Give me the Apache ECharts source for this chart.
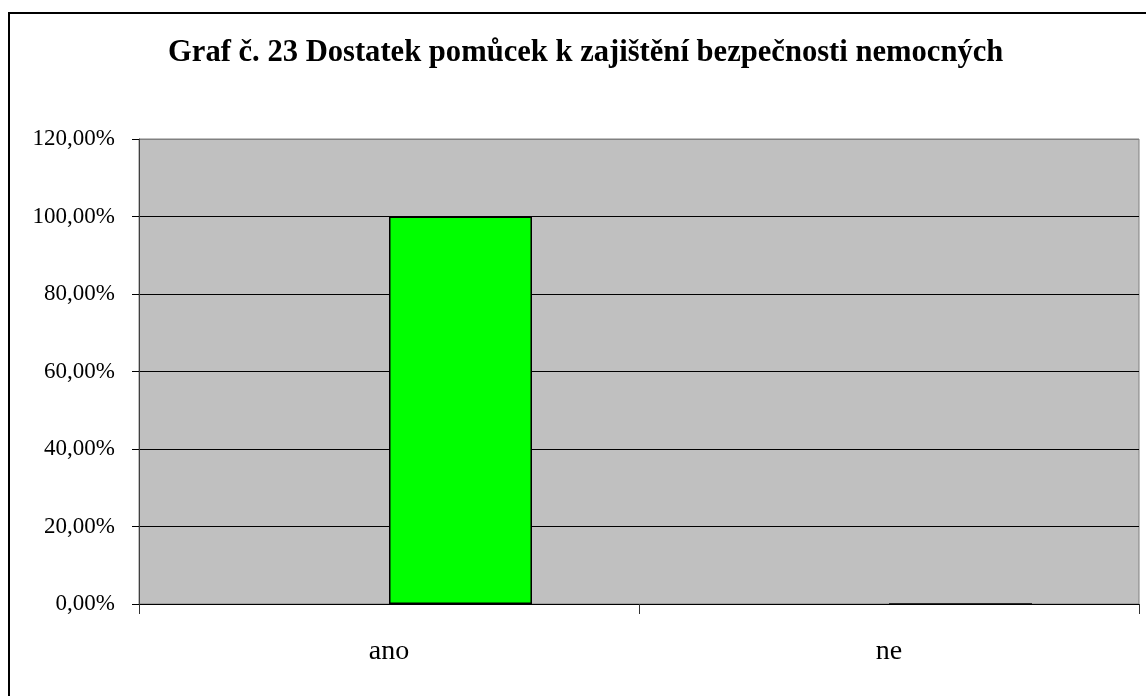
<!DOCTYPE html>
<html>
<head>
<meta charset="utf-8">
<script src="https://cdn.jsdelivr.net/npm/echarts@6/dist/echarts.min.js"></script>
<style>
  html, body { margin: 0; padding: 0; background: #fff; }
  #main { width: 1146px; height: 696px; }
</style>
</head>
<body>
<div id="main"></div>
<script>
// data
var titleText = 'Graf č. 23 Dostatek pomůcek k zajištění bezpečnosti nemocných';
var categories = ['ano', 'ne'];
var seriesEmpty = [0, 0];   // first series, nothing visible
var seriesVals = [100, 0];  // second series (green)
var yMin = 0, yMax = 120, yStep = 20;

var font = 'Liberation Serif';

var myChart = echarts.init(document.getElementById('main'));

var option = {
    backgroundColor: '#ffffff',
    animation: false,
    title: {
        text: titleText,
        left: 163,
        top: 33,
        textStyle: {
            fontFamily: font,
            fontWeight: 'bold',
            fontSize: 30.6,
            color: '#000'
        }
    },
    graphic: [{
        type: 'rect',
        shape: { x: 9, y: 13, width: 1300, height: 800 },
        style: { fill: 'none', stroke: '#000', lineWidth: 2 },
        silent: true
    }],
    grid: {
        left: 139,
        top: 139,
        right: 7,
        bottom: 92,
        show: true,
        backgroundColor: '#C0C0C0',
        borderColor: '#808080',
        borderWidth: 1
    },
    xAxis: {
        type: 'category',
        data: categories,
        axisLine: { show: true, lineStyle: { color: '#000', width: 1 } },
        axisTick: { show: true, length: 10, lineStyle: { color: '#333', width: 1 } },
        axisLabel: {
            margin: 34,
            fontFamily: font,
            fontSize: 28,
            color: '#000'
        }
    },
    yAxis: {
        type: 'value',
        min: yMin,
        max: yMax,
        interval: yStep,
        axisLine: { show: true, lineStyle: { color: '#404040', width: 1 } },
        axisTick: { show: true, length: 7, lineStyle: { color: '#000', width: 1 } },
        axisLabel: {
            margin: 24,
            fontFamily: font,
            fontSize: 23,
            color: '#000',
            formatter: function (v) {
                return v.toFixed(2).replace('.', ',') + '%';
            }
        },
        splitLine: {
            show: true,
            lineStyle: {
                color: ['#000', '#000', '#000', '#000', '#000', '#000', '#808080'],
                width: 1
            }
        }
    },
    series: [{
        type: 'bar',
        data: seriesEmpty,
        barWidth: 143,
        barGap: 0,
        barCategoryGap: '42.8%',
        itemStyle: { color: '#9999FF', borderColor: '#000', borderWidth: 0 }
    }, {
        type: 'bar',
        data: seriesVals,
        barWidth: 143,
        barGap: 0,
        barCategoryGap: '42.8%',
        itemStyle: { color: '#00FF00', borderColor: '#000', borderWidth: 1.5 }
    }]
};
myChart.setOption(option);
</script>
</body>
</html>
